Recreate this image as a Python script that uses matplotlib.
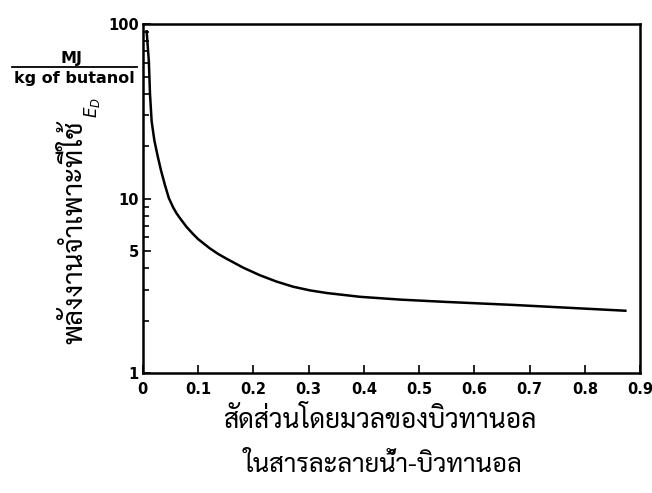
import numpy as np
import matplotlib
matplotlib.use('Agg')
import matplotlib.pyplot as plt
from matplotlib import font_manager as fm
from matplotlib.ft2font import FT2Font
from matplotlib.lines import Line2D

# values
mass_fraction = [0.007, 0.011, 0.013, 0.016, 0.021, 0.027, 0.033, 0.040, 0.047, 0.055,
                 0.061, 0.067, 0.079, 0.091, 0.100, 0.121, 0.136, 0.152, 0.182, 0.212,
                 0.242, 0.272, 0.303, 0.333, 0.393, 0.466, 0.550, 0.672, 0.793, 0.873]
energy = [91, 61, 40, 27.8, 21.5, 17.5, 14.5, 12.0, 10.1, 8.9,
          8.25, 7.75, 6.9, 6.27, 5.87, 5.2, 4.83, 4.52, 4.02, 3.64,
          3.35, 3.13, 2.98, 2.88, 2.74, 2.64, 2.56, 2.46, 2.35, 2.28]

x_ticks = [0, 0.1, 0.2, 0.3, 0.4, 0.5, 0.6, 0.7, 0.8, 0.9]
x_ticklabels = ['0', '0.1', '0.2', '0.3', '0.4', '0.5', '0.6', '0.7', '0.8', '0.9']
y_ticks = [1, 5, 10, 100]
y_ticklabels = ['1', '5', '10', '100']

xlabel_lines = ['สัดส่วนโดยมวลของบิวทานอล', 'ในสารละลายน้ำ-บิวทานอล']
ylabel_thai = 'พลังงานจำเพาะที่ใช้'

# pick an installed font that has Thai glyphs
thai_fonts = []
for f in fm.fontManager.ttflist:
    try:
        if 0x0E2A in FT2Font(f.fname).get_charmap() and f.name not in thai_fonts:
            thai_fonts.append(f.name)
    except Exception:
        pass
thai_font = None
for name in ['Sarabun', 'Noto Serif Thai', 'Noto Sans Thai', 'Loma']:
    if name in thai_fonts:
        thai_font = name
        break
if thai_font is None and thai_fonts:
    thai_font = thai_fonts[0]
thai_family = [thai_font, 'DejaVu Sans'] if thai_font else ['DejaVu Sans']

fig = plt.figure(figsize=(6.52, 4.93), dpi=100)
ax = fig.add_axes([0.219, 0.243, 0.763, 0.708])

ax.plot(mass_fraction, energy, color='black', lw=1.8, solid_joinstyle='round')
ax.set_yscale('log')
ax.set_xlim(0, 0.9)
ax.set_ylim(1, 100)

ax.set_xticks(x_ticks)
ax.set_xticklabels(x_ticklabels, fontsize=10.5, fontweight='bold')
ax.set_yticks(y_ticks)
ax.set_yticklabels(y_ticklabels, fontsize=10.5, fontweight='bold')
ax.tick_params(axis='both', which='both', direction='in', top=False, right=False)
ax.tick_params(axis='x', which='major', length=6, width=1.2, pad=6)
ax.tick_params(axis='y', which='major', length=6, width=1.2, pad=3)
ax.tick_params(axis='y', which='minor', length=4, width=1.2)
ax.tick_params(axis='x', which='minor', bottom=False)
for sp in ax.spines.values():
    sp.set_linewidth(1.8)

# y label pieces
fig.text(75 / 652, 1 - 232 / 493, ylabel_thai, rotation=90, fontsize=20,
         family=thai_family, ha='center', va='center')
fig.text(92 / 652, 1 - 108 / 493, r'$E_D$', rotation=90, fontsize=12,
         ha='center', va='center')
fig.text(72 / 652, 1 - 59 / 493, 'MJ', fontsize=11.5, fontweight='bold',
         ha='center', va='center')
fig.add_artist(Line2D([12 / 652, 137 / 652], [1 - 67 / 493, 1 - 67 / 493],
                      color='black', lw=1.3))
fig.text(74 / 652, 1 - 79 / 493, 'kg of butanol', fontsize=11.5, fontweight='bold',
         ha='center', va='center')

# x label, two lines
fig.text(380 / 652, 1 - 421 / 493, xlabel_lines[0], fontsize=19,
         family=thai_family, ha='center', va='center')
fig.text(383 / 652, 1 - 466 / 493, xlabel_lines[1], fontsize=18.5,
         family=thai_family, ha='center', va='center')

fig.savefig('out.png', dpi=100)
